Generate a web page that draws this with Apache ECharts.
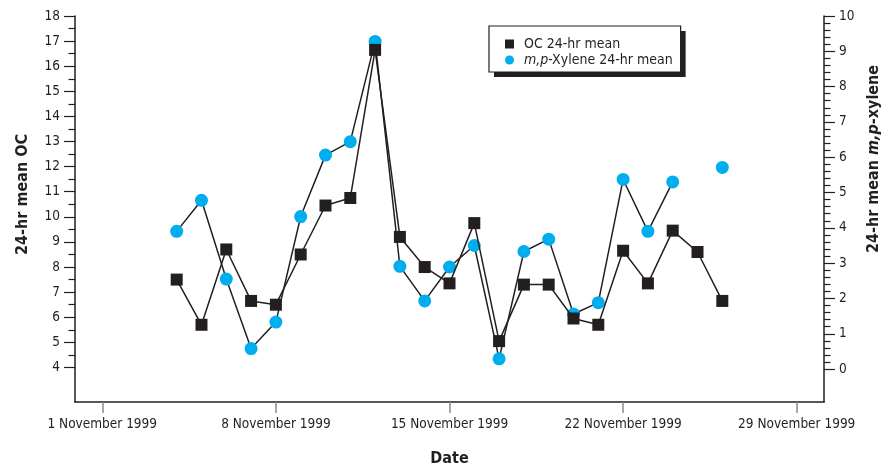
<!DOCTYPE html>
<html>
<head>
<meta charset="utf-8">
<script src="https://cdn.jsdelivr.net/npm/echarts@6/dist/echarts.min.js"></script>
<style>
  html, body { margin: 0; padding: 0; background: #fff; }
  #chart { width: 891px; height: 468px; }
</style>
</head>
<body>
<div id="chart"></div>
<script>
// Sampling days (day of November 1999)
const days = [4, 5, 6, 7, 8, 9, 10, 11, 12, 13, 14, 15, 16, 17, 18, 19, 20, 21, 22, 23, 24, 25, 26];
// 24-hr mean organic carbon
const ocMean = [7.5, 5.7, 8.7, 6.65, 6.5, 8.5, 10.45, 10.75, 16.65, 9.2, 8.0, 7.35, 9.75, 5.05, 7.3, 7.3, 5.95, 5.7, 8.65, 7.35, 9.45, 8.6, 6.65];
// 24-hr mean m,p-xylene (no sample on 25 November)
const xyleneMean = [3.9, 4.78, 2.55, 0.58, 1.33, 4.32, 6.06, 6.44, 9.28, 2.91, 1.93, 2.89, 3.5, 0.29, 3.33, 3.68, 1.56, 1.88, 5.37, 3.9, 5.3, null, 5.71];

// Axis ticks
const dateTicks = [1, 8, 15, 22, 29];
const ocTicks = [4, 5, 6, 7, 8, 9, 10, 11, 12, 13, 14, 15, 16, 17, 18];
const xyleneTicks = [0, 1, 2, 3, 4, 5, 6, 7, 8, 9, 10];

const ocMinorTicks = ocTicks.slice(0, -1).map(v => v + 0.5);
const xyleneMinorTicks = [];
xyleneTicks.slice(0, -1).forEach(v => {
  for (let k = 1; k < 5; k++) xyleneMinorTicks.push(+(v + k * 0.2).toFixed(1));
});

const INK = '#231f20';
const CLEAR = 'rgba(0,0,0,0)';
const FONT = "'Liberation Sans Narrow', 'DejaVu Sans Condensed', sans-serif";
const TICK_FS = 13.5;
const LEG_FS = 14;
const NAME_FS = 16;

const ocData = days.map((d, i) => [d, ocMean[i]]);
const xyleneData = days.map((d, i) => [d, xyleneMean[i] == null ? '-' : xyleneMean[i]]);

function minorAxis(position, min, max, ticks) {
  return {
    type: 'value', position, min, max,
    axisLine: { show: false, onZero: false },
    axisTick: { show: true, customValues: ticks, length: 6.5, lineStyle: { color: INK, width: 1.2 } },
    axisLabel: { show: false },
    splitLine: { show: false }
  };
}

// Legend box: one copy paints the white panel and its drop shadow,
// the other paints the outline and the entries on top of it.
function legendBox(color, symbolOpacity, extra) {
  const rich = {
    t: { fontFamily: FONT, fontSize: LEG_FS, color, padding: [0, 0, 0, 5], lineHeight: 16 },
    i: { fontFamily: FONT, fontSize: LEG_FS, color, fontStyle: 'italic', padding: [0, 0, 0, 5], lineHeight: 16 },
    u: { fontFamily: FONT, fontSize: LEG_FS, color, lineHeight: 16 }
  };
  return Object.assign({
    left: 489, top: 26,
    orient: 'vertical',
    itemWidth: 9, itemHeight: 9, itemGap: 0,
    padding: [10, 8, 4, 16],
    selectedMode: false,
    data: [
      { name: 'OC', icon: 'rect' },
      { name: 'XY', icon: 'circle' }
    ],
    formatter: name => name === 'OC'
      ? '{t|OC 24-hr mean}'
      : '{i|m,p}{u|-Xylene 24-hr mean}',
    itemStyle: { opacity: symbolOpacity },
    textStyle: { fontFamily: FONT, fontSize: LEG_FS, color, lineHeight: 16, rich }
  }, extra);
}

const chart = echarts.init(document.getElementById('chart'), null, { renderer: 'canvas' });
chart.setOption({
  backgroundColor: '#fff',
  animation: false,
  textStyle: { fontFamily: FONT, color: INK },
  grid: { left: 75, right: 67, top: 16, bottom: 66, containLabel: false, outerBoundsMode: 'none' },
  legend: [
    legendBox(CLEAR, 0, {
      backgroundColor: '#fff', borderWidth: 0,
      shadowColor: INK, shadowBlur: 0, shadowOffsetX: 5, shadowOffsetY: 5
    }),
    legendBox(INK, 1, {
      backgroundColor: CLEAR, borderColor: INK, borderWidth: 1.2
    })
  ],
  xAxis: {
    type: 'value', min: -0.1, max: 30.1,
    name: 'Date', nameLocation: 'middle', nameGap: 49,
    nameTextStyle: { fontFamily: FONT, fontSize: NAME_FS, fontWeight: 'bold', color: INK },
    axisLine: { show: true, onZero: false, lineStyle: { color: INK, width: 1.5 } },
    axisTick: { show: true, customValues: dateTicks, length: 11, lineStyle: { color: '#8a8a8a', width: 1.5 } },
    axisLabel: {
      customValues: dateTicks, margin: 15, fontSize: TICK_FS, color: INK, fontFamily: FONT,
      formatter: v => v + ' November 1999'
    },
    splitLine: { show: false }
  },
  yAxis: [
    {
      type: 'value', position: 'left', min: 2.624, max: 18,
      name: '24-hr mean OC', nameLocation: 'middle', nameRotate: 90, nameGap: 44,
      nameTextStyle: { fontFamily: FONT, fontSize: NAME_FS, fontWeight: 'bold', color: INK, padding: [0, 0, 0, 29] },
      axisLine: { show: true, onZero: false, lineStyle: { color: INK, width: 1.5 } },
      axisTick: { show: true, customValues: ocTicks, length: 11, lineStyle: { color: INK, width: 1.2 } },
      axisLabel: { customValues: ocTicks, margin: 15, fontSize: TICK_FS, color: INK, fontFamily: FONT },
      splitLine: { show: false }
    },
    minorAxis('left', 2.624, 18, ocMinorTicks),
    {
      type: 'value', position: 'right', min: -0.933, max: 10,
      name: '{b|24-hr mean }{i|m,p}{b|-xylene}', nameLocation: 'middle', nameRotate: 90, nameGap: 32,
      nameTextStyle: {
        fontFamily: FONT, fontSize: NAME_FS, fontWeight: 'bold', color: INK, padding: [0, 0, 0, 100],
        rich: {
          b: { fontFamily: FONT, fontSize: NAME_FS, fontWeight: 'bold', color: INK },
          i: { fontFamily: FONT, fontSize: NAME_FS, fontWeight: 'bold', fontStyle: 'italic', color: INK }
        }
      },
      axisLine: { show: true, onZero: false, lineStyle: { color: INK, width: 1.5 } },
      axisTick: { show: true, customValues: xyleneTicks, length: 11, lineStyle: { color: INK, width: 1.2 } },
      axisLabel: { customValues: xyleneTicks, margin: 15, fontSize: TICK_FS, color: INK, fontFamily: FONT },
      splitLine: { show: false }
    },
    minorAxis('right', -0.933, 10, xyleneMinorTicks)
  ],
  series: [
    {
      name: 'XY', type: 'line', yAxisIndex: 2,
      data: xyleneData,
      connectNulls: false,
      symbol: 'circle', symbolSize: 13,
      itemStyle: { color: '#00aeef' },
      lineStyle: { color: INK, width: 1.5 },
      z: 2
    },
    {
      name: 'OC', type: 'line', yAxisIndex: 0,
      data: ocData,
      symbol: 'rect', symbolSize: 12,
      itemStyle: { color: INK },
      lineStyle: { color: INK, width: 1.5 },
      z: 3
    }
  ]
});
</script>
</body>
</html>
